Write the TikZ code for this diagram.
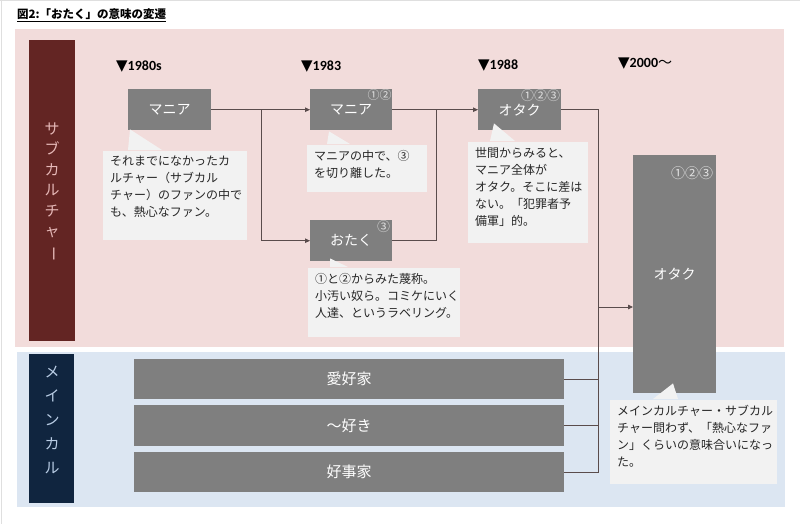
\documentclass[tikz,border=0pt]{standalone}
\usepackage{fontspec}
\setmainfont{Noto Sans CJK JP}
\newfontfamily\yearfont{Carlito}
\newfontfamily\symfont{DejaVu Sans}
\usetikzlibrary{arrows.meta}

\definecolor{pinkbg}{RGB}{242,220,219}
\definecolor{bluebg}{RGB}{220,230,242}
\definecolor{subbar}{RGB}{99,37,35}
\definecolor{mainbar}{RGB}{16,37,63}
\definecolor{subtxt}{RGB}{230,185,184}
\definecolor{maintxt}{RGB}{185,205,229}
\definecolor{boxgray}{RGB}{127,127,127}
\definecolor{memofill}{RGB}{242,242,242}
\definecolor{memotxt}{RGB}{38,38,38}
\definecolor{numgray}{RGB}{225,225,225}
\definecolor{linecol}{RGB}{90,76,76}

\newcommand{\memotext}[3]{\parbox[t][#2][t]{#1}{\raggedright #3}}

\begin{document}
\begin{tikzpicture}[x=1pt, y=-1pt,
    box/.style={fill=boxgray, text=white, inner sep=0pt, anchor=north west, font=\fontsize{14}{16}\selectfont},
    memo/.style={fill=memofill, text=memotxt, inner xsep=7pt, inner ysep=5pt, anchor=north west, font=\fontsize{12}{17}\selectfont},
    nums/.style={text=numgray, inner sep=0pt, anchor=north east},
    year/.style={anchor=west, inner sep=0pt, font=\fontsize{14}{16}\selectfont},
    link/.style={draw=linecol, line width=0.8pt},
    arr/.style={link, -{Triangle[length=5pt, width=4.5pt]}}]
  \useasboundingbox (0,0) rectangle (800,524);
  \fill[white] (0,0) rectangle (800,524);
  \draw[gray!25, line width=1pt] (0,0.5) -- (800,0.5);
  \draw[gray!25, line width=1pt] (1.5,0) -- (1.5,524);

  % title
  \node[anchor=west, inner sep=0pt, font=\bfseries\fontsize{11.5}{13}\selectfont] (title) at (17,15) {\underline{図2:「おたく」の意味の変遷}};

  % bands
  \fill[pinkbg] (15,29) rectangle (784,347);
  \fill[bluebg] (17,352) rectangle (785,507);
  \node[fill=subbar, minimum width=46pt, minimum height=301pt, inner sep=0pt] (subcul) at (52,190.5) {};
  \node[fill=mainbar, minimum width=45pt, minimum height=149pt, inner sep=0pt] (maincul) at (51.5,428.5) {};
  \node[text=subtxt, align=center, inner sep=0pt, font=\fontsize{15}{20.5}\selectfont] (subname) at (52,192) {サ\\ブ\\カ\\ル\\チ\\ャ\\\rotatebox[origin=c]{-90}{ー}};
  \node[text=maintxt, align=center, inner sep=0pt, font=\fontsize{15}{24}\selectfont] (mainname) at (52,420) {メ\\イ\\ン\\カ\\ル};

  % years
  \node[year] (t80) at (116,67) {{\symfont\fontsize{15}{16}\selectfont ▼}\yearfont\bfseries 1980s};
  \node[year] (t83) at (301,67) {{\symfont\fontsize{15}{16}\selectfont ▼}\yearfont\bfseries 1983};
  \node[year] (t88) at (478,66) {{\symfont\fontsize{15}{16}\selectfont ▼}\yearfont\bfseries 1988};
  \node[year] (t00) at (618,64) {{\symfont\fontsize{15}{16}\selectfont ▼}{\yearfont\bfseries 2000}〜};

  % boxes
  \node[box, minimum width=83pt, minimum height=41pt] (m80) at (128,89) {マニア};
  \node[box, minimum width=82pt, minimum height=41pt] (m83) at (310,89) {マニア};
  \node[box, minimum width=82pt, minimum height=41pt] (ot83) at (310,220) {おたく};
  \node[box, minimum width=83pt, minimum height=41pt] (o88) at (478,89) {オタク};
  \node[box, minimum width=83pt, minimum height=238pt] (obig) at (633,155) {オタク};
  \node[box, minimum width=430pt, minimum height=40pt, font=\fontsize{15}{16}\selectfont] (a1) at (134,359) {愛好家};
  \node[box, minimum width=430pt, minimum height=41pt, font=\fontsize{15}{16}\selectfont] (a2) at (134,405) {〜好き};
  \node[box, minimum width=430pt, minimum height=40pt, font=\fontsize{15}{16}\selectfont] (a3) at (134,452) {好事家};

  \node[nums, font=\fontsize{12}{12}\selectfont] (n83) at ([xshift=-0.5pt,yshift=-0.5pt]m83.north east) {①②};
  \node[nums, font=\fontsize{13}{13}\selectfont] (not83) at ([xshift=-2pt,yshift=-0.5pt]ot83.north east) {③};
  \node[nums, font=\fontsize{13}{13}\selectfont] (n88) at ([xshift=-1pt,yshift=-0.5pt]o88.north east) {①②③};
  \node[nums, font=\fontsize{14}{14}\selectfont] (nbig) at ([xshift=-3pt,yshift=-11pt]obig.north east) {①②③};

  % callouts
  \node[memo] (c80) at (103,151) {\memotext{130pt}{79pt}{それまでになかったカ\\ルチャー（サブカル\\チャー）のファンの中で\\も、熱心なファン。}};
  \node[memo] (c83) at (307,145) {\memotext{106pt}{37pt}{マニアの中で、③\\を切り離した。}};
  \node[memo] (cot) at (308,268) {\memotext{138pt}{59pt}{①と②からみた蔑称。\\小汚い奴ら。コミケにいく\\人達、というラベリング。}};
  \node[memo] (c88) at (468,142) {\memotext{106pt}{91pt}{世間からみると、\\マニア全体が\\オタク。そこに差は\\ない。「犯罪者予\\備軍」的。}};
  \node[memo] (cbig) at (610,400) {\memotext{153pt}{74pt}{メインカルチャー・サブカル\\チャー問わず、「熱心なファ\\ン」くらいの意味合いになっ\\た。}};

  \fill[memofill] ([xshift=2pt,yshift=1pt]m80.south west) -- ([xshift=25pt,yshift=1pt]c80.north west) -- ([xshift=59pt,yshift=1pt]c80.north west) -- cycle;
  \fill[memofill] ([xshift=19pt,yshift=-1pt]m83.south west) -- ([xshift=20pt,yshift=1pt]c83.north west) -- ([xshift=43pt,yshift=1pt]c83.north west) -- cycle;
  \fill[memofill] ([xshift=20pt,yshift=3pt]ot83.south west) -- ([xshift=22pt,yshift=1pt]cot.north west) -- ([xshift=40pt,yshift=1pt]cot.north west) -- cycle;
  \fill[memofill] ([xshift=16pt,yshift=7pt]o88.south west) -- ([xshift=22pt,yshift=1pt]c88.north west) -- ([xshift=47pt,yshift=1pt]c88.north west) -- cycle;
  \fill[memofill] ([xshift=40pt,yshift=10pt]obig.south west) -- ([xshift=43pt,yshift=1pt]cbig.north west) -- ([xshift=68pt,yshift=1pt]cbig.north west) -- cycle;

  % connectors
  \coordinate (j80) at (261,109.5);
  \coordinate (j83) at (436,109.5);
  \coordinate (j88) at (598,307);
  \draw[arr] (m80.east) -- (m83.west);
  \draw[arr] (j80) |- (ot83.west);
  \draw[arr] (m83.east) -- (o88.west);
  \draw[link] (ot83.east) -| (j83);
  \draw[link] (o88.east) -| (j88);
  \draw[arr] (j88) -- (j88 -| obig.west);
  \foreach \n in {a1,a2,a3}
    \draw[link] (\n.east) -| (j88);
\end{tikzpicture}
\end{document}
